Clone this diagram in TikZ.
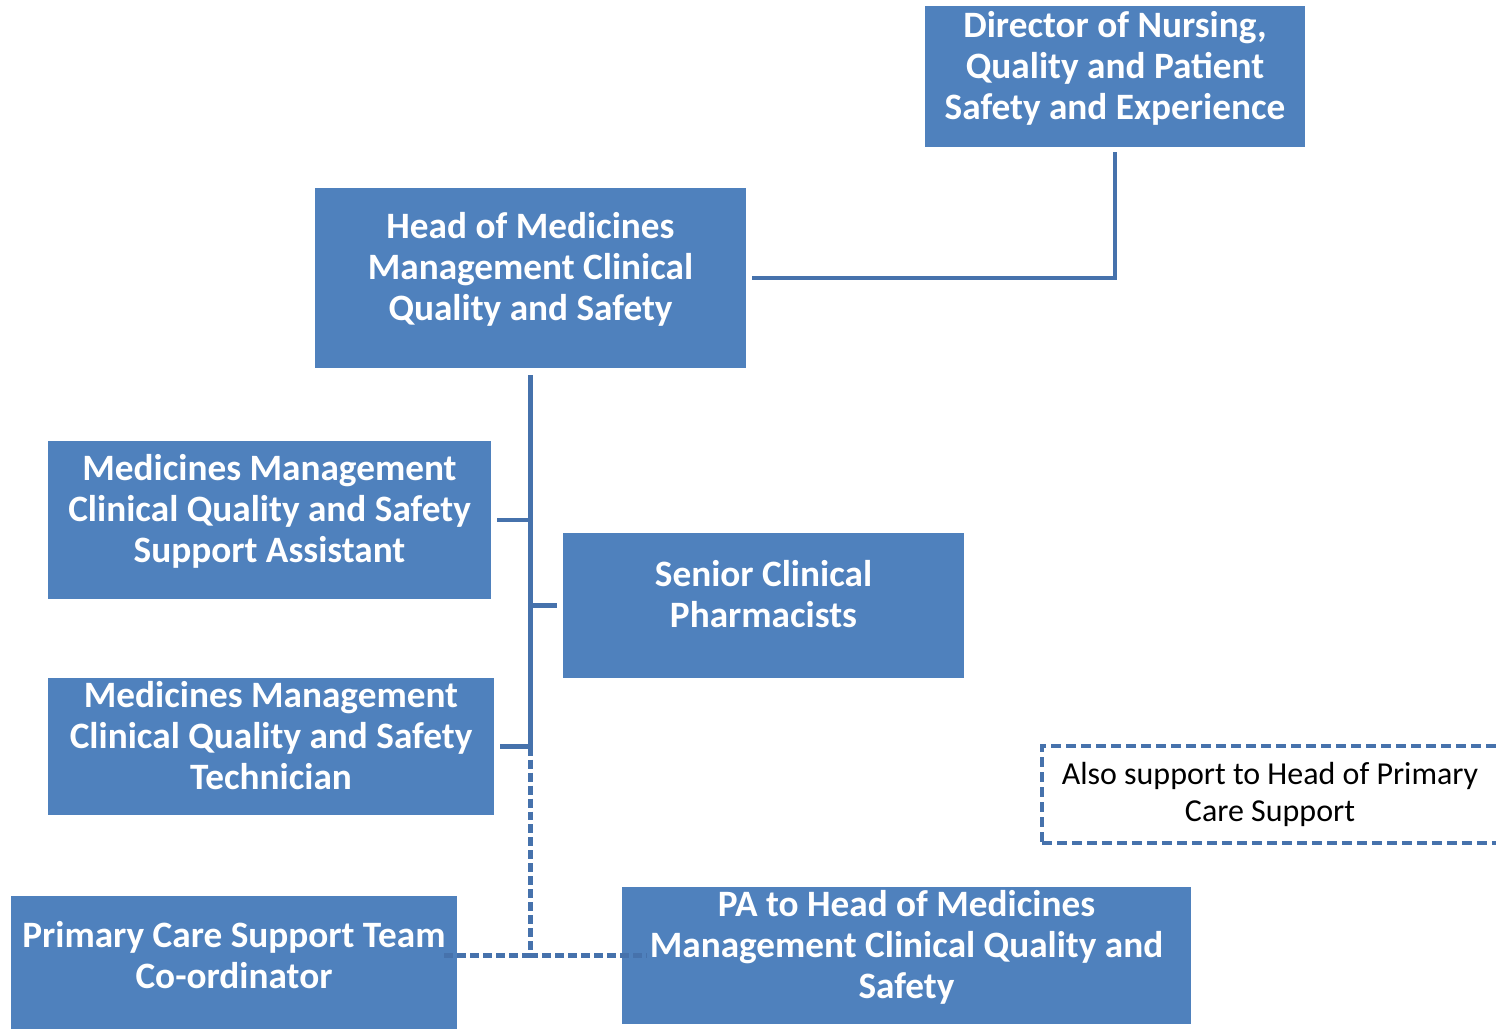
\documentclass[tikz,border=0pt]{standalone}
\usepackage{fontspec}
\setmainfont{Carlito}
\usepackage{tikz}
\definecolor{boxblue}{RGB}{79,129,189}
\definecolor{lineblue}{RGB}{70,114,172}

\begin{document}
\begin{tikzpicture}[x=0.02cm, y=-0.02cm,
    post/.style={fill=boxblue, text=white, font=\bfseries\fontsize{21.2}{23.3}\selectfont, align=center, inner sep=0pt, text depth=0.45cm},
    link/.style={lineblue, line width=2.8pt},
    dashlink/.style={lineblue, line width=2.8pt, dash pattern=on 0.18cm off 0.08cm}]
    \useasboundingbox (0,0) rectangle (1496,1028);

    % Posts
    \node[post, minimum width=7.6cm, minimum height=2.82cm] (director) at (1115,76.5) {Director of Nursing,\\Quality and Patient\\Safety and Experience};
    \node[post, minimum width=8.62cm, minimum height=3.6cm] (head) at (530.5,278) {Head of Medicines\\Management Clinical\\Quality and Safety};
    \node[post, minimum width=8.86cm, minimum height=3.16cm] (assistant) at (269.5,520) {Medicines Management\\Clinical Quality and Safety\\Support Assistant};
    \node[post, minimum width=8.02cm, minimum height=2.9cm] (senior) at (763.5,605.5) {Senior Clinical\\Pharmacists};
    \node[post, minimum width=8.92cm, minimum height=2.74cm] (technician) at (271,746.5) {Medicines Management\\Clinical Quality and Safety\\Technician};
    \node[post, minimum width=8.92cm, minimum height=2.8cm] (coordinator) at (234,966) {Primary Care Support Team\\Co-ordinator};
    \node[post, minimum width=11.38cm, minimum height=2.74cm] (pa) at (906.5,955.5) {PA to Head of Medicines\\Management Clinical Quality and\\Safety};

    % Note
    \node[draw=lineblue, line width=2pt, dash pattern=on 0.2cm off 0.1cm, minimum width=9.12cm, minimum height=1.94cm, align=center, font=\fontsize{18.2}{21.5}\selectfont] (note) at (1270,794.5) {Also support to Head of Primary\\Care Support};

    % Solid lines
    \draw[link] ([yshift=-0.1cm]director.south) -- (director.south |- head.east) -- ([xshift=0.12cm]head.east);
    \coordinate (trunktop) at ([yshift=-0.14cm]head.south);
    \coordinate (split) at (trunktop |- technician.east);
    \draw[link] (trunktop) -- (split);
    \draw[link] ([xshift=0.12cm]assistant.east) -- (assistant.east -| trunktop);
    \draw[link] (trunktop |- senior.west) -- ([xshift=-0.12cm]senior.west);
    \draw[link] ([xshift=0.12cm]technician.east) -- (split);

    % Dashed lines
    \coordinate (corner) at (split |- pa.west);
    \draw[dashlink] (split) -- (corner) -- ([xshift=0.5cm]pa.west);
    \draw[dashlink] (corner) -- ([xshift=-0.34cm]corner -| coordinator.east);
\end{tikzpicture}
\end{document}
